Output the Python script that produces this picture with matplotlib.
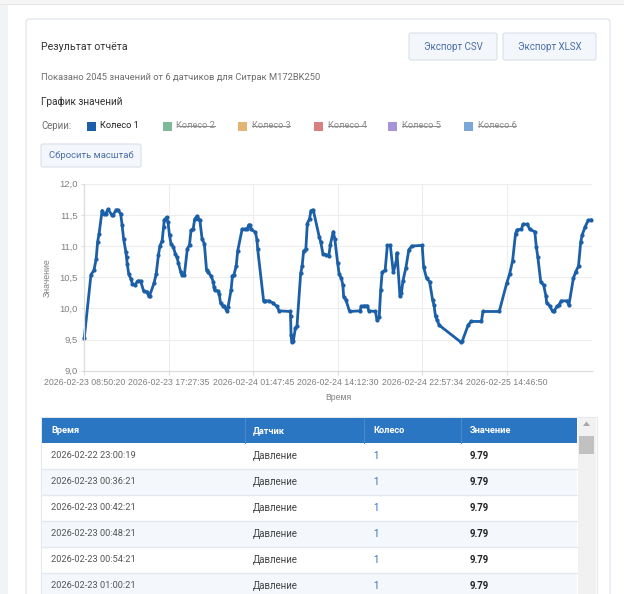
import matplotlib
matplotlib.use("Agg")
import matplotlib.pyplot as plt
from matplotlib.patches import Rectangle, FancyBboxPatch, Polygon

# wheel 1 pressure, x is the sample number along the category axis
samples = [0, 4.5, 6.5, 8, 9, 10, 12, 13, 14.5, 16, 18.5, 19.5, 21.5, 22.5, 24.5, 25.5, 26.5, 28, 28.5, 29,
           30, 31.5, 32.5, 34, 36, 38, 40, 42, 43.5, 44, 47, 48.5, 50, 51, 52.5, 53.5, 54, 55.5, 56.5, 57.5,
           58.5, 60, 61.5, 62.5, 63.5, 65, 66, 67.5, 69.5, 71, 72, 73.5, 74.5, 76, 77, 78, 79.5, 81, 82.5, 83.5,
           85.5, 87, 87.5, 88, 90, 91, 92, 93.5, 94.5, 96, 97, 99, 100, 101, 102.5, 103.5, 106.5, 108.5, 110, 111,
           112, 112.5, 115.5, 116.5, 117, 121, 122, 124.5, 127, 130, 131.5, 139, 139.2, 139.5, 140, 141, 142.5, 143.5, 146, 147,
           148, 149.5, 150.5, 152, 153, 154.5, 158.5, 159.5, 161, 163, 165, 166, 168, 169, 171, 172, 173.5, 174.5, 175, 176.5,
           179, 186, 187, 188.5, 191, 192, 196.5, 197.5, 199, 200, 201, 203, 204.5, 206.5, 208.5, 210.5, 211, 213, 214, 215,
           217, 219, 221, 228, 229, 231, 233, 235, 236, 237, 238, 239.5, 254, 255, 259, 261, 268, 269, 280, 285,
           287, 289, 291, 292, 295, 296, 299, 300.5, 304, 305, 306, 308, 310, 311.5, 312, 314, 316, 317, 319, 320,
           322, 326, 327, 330, 331.5, 333.5, 335, 336, 338, 340, 342]
pressure = [9.53, 10.54, 10.61, 10.79, 11.07, 11.2, 11.57, 11.51, 11.52, 11.59, 11.5, 11.5, 11.58, 11.58, 11.52, 11.34, 11.12, 10.91, 10.82, 10.71,
            10.55, 10.47, 10.39, 10.37, 10.44, 10.44, 10.28, 10.27, 10.2, 10.2, 10.4, 10.55, 10.85, 11.0, 11.08, 11.3, 11.42, 11.46, 11.38, 11.17,
            11.04, 10.99, 10.87, 10.82, 10.73, 10.59, 10.53, 10.53, 10.95, 11.02, 11.25, 11.28, 11.43, 11.48, 11.44, 11.41, 11.11, 11.04, 10.61, 10.58,
            10.52, 10.43, 10.35, 10.29, 10.28, 10.23, 10.08, 10.04, 10.03, 9.96, 10.02, 10.29, 10.52, 10.54, 10.68, 10.92, 11.27, 11.27, 11.28, 11.34,
            11.33, 11.27, 11.22, 11.1, 10.95, 10.12, 10.12, 10.12, 10.09, 10.03, 9.96, 9.95, 9.88, 9.58, 9.46, 9.47, 9.69, 9.71, 10.56, 10.68,
            10.92, 10.95, 11.36, 11.44, 11.57, 11.58, 11.15, 11.07, 10.88, 10.86, 10.84, 11.02, 11.23, 11.12, 10.72, 10.55, 10.48, 10.37, 10.19, 10.14,
            9.95, 9.96, 10.03, 10.04, 10.04, 9.96, 9.95, 9.81, 9.86, 10.29, 10.58, 10.61, 11.01, 11.01, 10.58, 10.75, 10.89, 10.2, 10.24, 10.44,
            10.65, 10.94, 11.0, 11.01, 10.66, 10.48, 10.43, 10.14, 10.05, 9.87, 9.82, 9.73, 9.46, 9.47, 9.73, 9.79, 9.79, 9.95, 9.95, 10.4,
            10.55, 10.76, 11.2, 11.26, 11.27, 11.35, 11.35, 11.27, 11.23, 10.99, 10.83, 10.43, 10.37, 10.2, 10.09, 10.04, 9.95, 9.96, 10.03, 10.05,
            10.12, 10.12, 10.05, 10.48, 10.58, 10.68, 11.07, 11.18, 11.31, 11.41, 11.42]

tick_samples = [0, 57, 114, 171, 228, 285]
tick_labels = ["2026-02-23 08:50:20", "2026-02-23 17:27:35", "2026-02-24 01:47:45",
               "2026-02-24 14:12:30", "2026-02-24 22:57:34", "2026-02-25 14:46:50"]
y_ticks = [9.0, 9.5, 10.0, 10.5, 11.0, 11.5, 12.0]

series_names = ["Колесо 1", "Колесо 2", "Колесо 3", "Колесо 4", "Колесо 5", "Колесо 6"]
series_colors = ["#1a5fa8", "#80b89a", "#e3b574", "#d88080", "#a794d8", "#7ba8d8"]

table_header = ["Время", "Датчик", "Колесо", "Значение"]
table_times = ["2026-02-22 23:00:19", "2026-02-23 00:36:21", "2026-02-23 00:42:21",
               "2026-02-23 00:48:21", "2026-02-23 00:54:21", "2026-02-23 01:00:21"]
table_values = ["9.79", "9.79", "9.79", "9.79", "9.79", "9.79"]

W, H = 624, 594
PAGE_FONT = "Roboto"
CHART_FONT = "Liberation Sans"

fig = plt.figure(figsize=(W / 100, H / 100), dpi=100, facecolor="white")

# page layer works in image pixels
page = fig.add_axes([0, 0, 1, 1])
page.set_xlim(0, W)
page.set_ylim(H, 0)
page.axis("off")


def box(x0, y0, x1, y1, fc, ec="none", lw=0.8):
    page.add_patch(Rectangle((x0, y0), x1 - x0, y1 - y0, fc=fc, ec=ec, lw=lw))


def button(x0, y0, x1, y1, label, size=7.0):
    page.add_patch(FancyBboxPatch((x0 + 1, y0 + 1), x1 - x0 - 2, y1 - y0 - 2, boxstyle="round,pad=1,rounding_size=2",
                                  fc="#f3f6fa", ec="#dde3ec", lw=0.9))
    page.text((x0 + x1) / 2, (y0 + y1) / 2, label, fontsize=size, color="#4a6fa8", family=PAGE_FONT,
              ha="center", va="center")


# background bands and the card
box(0, 0, W, 4, "#f5f5f5")
box(0, 4, W, 5, "#e6e6e6")
box(0, 5, 8, H, "#f1f3f7")
page.add_patch(FancyBboxPatch((26, 19), 584, H + 20, boxstyle="round,pad=0,rounding_size=3",
                              fc="white", ec="#e0e5ed", lw=0.9))

page.text(41, 47, "Результат отчёта", fontsize=7.7, color="#333333", family=PAGE_FONT, va="center")
button(409, 33, 497, 60, "Экспорт CSV")
button(503, 33, 596, 60, "Экспорт XLSX")
page.text(41, 77, "Показано 2045 значений от 6 датчиков для Ситрак M172BK250", fontsize=6.75, color="#6e6e6e",
          family=PAGE_FONT, va="center")
page.text(41, 102, "График значений", fontsize=7.2, color="#333333", family=PAGE_FONT, va="center")

# legend row, only the first series is switched on
page.text(41, 126, "Серии:", fontsize=6.9, color="#6e6e6e", family=PAGE_FONT, va="center")
swatch_x = [87, 163, 238, 314, 388, 464]
for i, name in enumerate(series_names):
    box(swatch_x[i], 122, swatch_x[i] + 9, 131, series_colors[i])
    on = i == 0
    t = page.text(swatch_x[i] + 13.5, 126, name, fontsize=6.7, color="#222222" if on else "#8c8c8c",
                  family=PAGE_FONT, va="center")
    if not on:
        bb = t.get_window_extent(fig.canvas.get_renderer())
        page.plot([bb.x0, bb.x1], [126, 126], color="#8c8c8c", lw=0.7)
button(41, 144, 141, 167, "Сбросить масштаб", size=6.8)

# chart
ax_left, ax_right, ax_top, ax_bottom = 84.3, 592, 183.7, 370.7
ax = fig.add_axes([ax_left / W, 1 - ax_bottom / H, (ax_right - ax_left) / W, (ax_bottom - ax_top) / H])
ax.patch.set_alpha(0)
ax.plot(samples, pressure, color=series_colors[0], lw=2.0, marker="o", ms=2.0, solid_joinstyle="round", clip_on=False)
ax.set_xlim(0, 342.6)
ax.set_ylim(9, 12)
ax.set_xticks(tick_samples)
ax.set_xticklabels(tick_labels, fontsize=6.3, color="#808080", family=CHART_FONT)
ax.set_yticks(y_ticks)
ax.set_yticklabels([f"{v:.1f}".replace(".", ",") for v in y_ticks], fontsize=6.8, color="#808080", family=CHART_FONT)
ax.tick_params(axis="x", length=3, width=0.8, color="#dcdcdc", pad=2.2)
ax.tick_params(axis="y", length=2, width=0.8, color="#dcdcdc", pad=2.5)
ax.grid(True, color="#ededed", lw=0.8)
ax.set_axisbelow(True)
for side in ["top", "right"]:
    ax.spines[side].set_visible(False)
for side in ["left", "bottom"]:
    ax.spines[side].set_color("#dcdcdc")
    ax.spines[side].set_linewidth(0.9)
page.text(47, 278, "Значение", fontsize=6.3, color="#808080", family=CHART_FONT, rotation=90, ha="center", va="center")
page.text(338, 398, "Время", fontsize=6.2, color="#808080", family=CHART_FONT, ha="center", va="center")

# table
box(41, 417, 597, H + 5, "white", ec="#e3e7ee")
box(42, 418, 577, 443, "#2b76c2")
for x in [245, 364, 461]:
    page.plot([x, x], [418, 443], color="#4a8bcd", lw=0.7)
col_x = [51, 253, 373, 470]
for x, label in zip(col_x, table_header):
    page.text(x, 430.5, label, fontsize=6.7, color="white", fontweight="bold", family=PAGE_FONT, va="center")

row_h = 26
for i in range(len(table_times)):
    top = 443 + i * row_h
    if i % 2 == 1:
        box(42, top, 577, top + row_h, "#f4f7fb")
    page.plot([42, 577], [top + row_h, top + row_h], color="#e4e9f0", lw=1.0)
    cy = top + 13
    page.text(col_x[0], cy, table_times[i], fontsize=6.7, color="#555555", family=PAGE_FONT, va="center")
    page.text(col_x[1], cy, "Давление", fontsize=6.9, color="#444444", family=PAGE_FONT, va="center")
    page.text(col_x[2], cy, "1", fontsize=6.9, color="#2b6cb0", family=PAGE_FONT, va="center")
    page.text(col_x[3], cy, table_values[i], fontsize=6.9, color="#222222", fontweight="bold", family=PAGE_FONT, va="center")

# scrollbar
box(578, 418, 596, H, "#f1f1f1")
box(579, 436, 594, 454, "#c1c1c1")
page.add_patch(Polygon([(583, 426), (590, 426), (586.5, 421.5)], fc="#a8a8a8", ec="none"))

fig.savefig("out.png", dpi=100)
